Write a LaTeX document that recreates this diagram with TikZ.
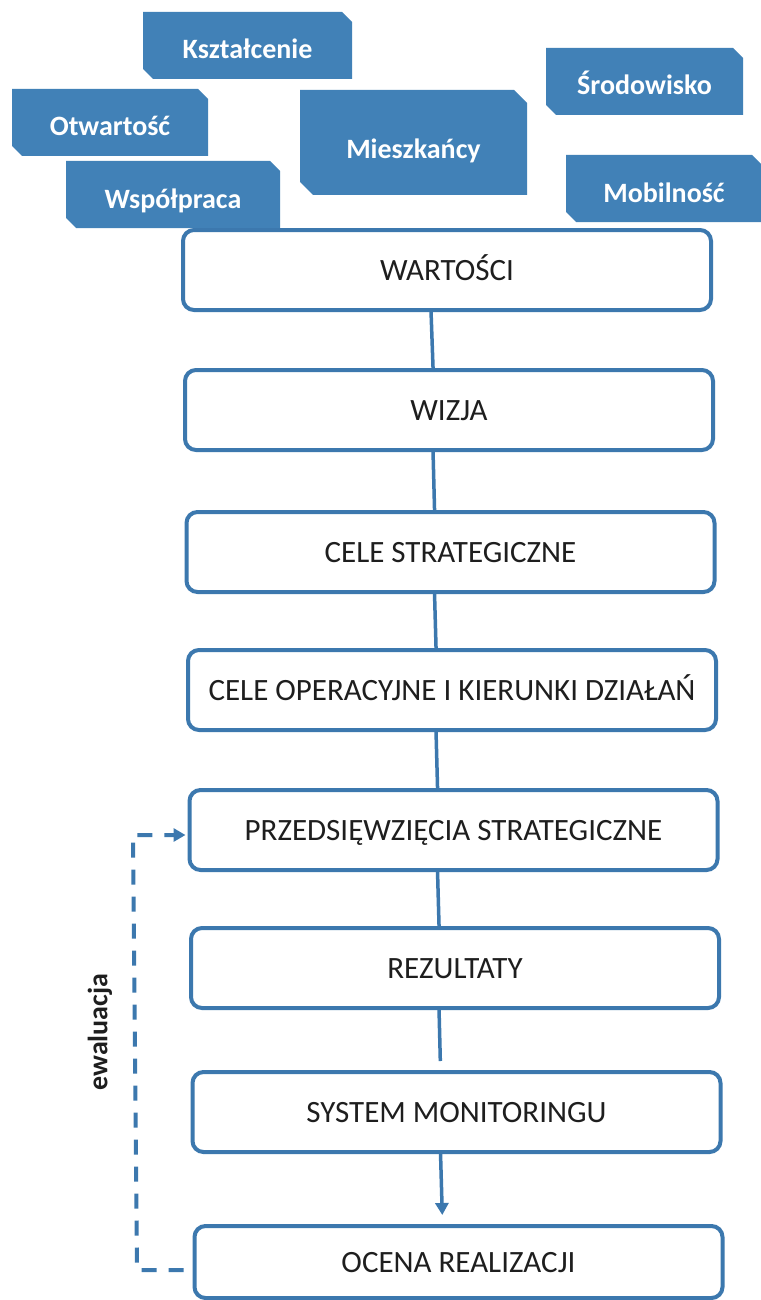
\documentclass[tikz,border=0pt]{standalone}
\usepackage{fontspec}
\setmainfont{Carlito}
\usetikzlibrary{arrows.meta,calc,backgrounds}
\definecolor{tagblue}{HTML}{4181B7}
\definecolor{lineblue}{HTML}{3C78AE}
\definecolor{txt}{HTML}{1E1E1E}
\newcommand\tagfill[2]{%
  \fill[tagblue] (#1.north west) -- ($(#1.north east)+(-#2,0)$) -- ($(#1.north east)+(0,#2)$)
    -- (#1.south east) -- ($(#1.south west)+(#2,0)$) -- ($(#1.south west)+(0,-#2)$) -- cycle;}
\begin{document}
\begin{tikzpicture}[x=1pt,y=-1pt,
  tagbox/.style={rectangle, text=white, font=\fontsize{28}{32}\selectfont\bfseries,
    inner sep=0pt, outer sep=0pt, minimum height=67pt, text height=27pt, text depth=0pt},
  stagebox/.style={draw=lineblue, line width=4pt, rounded corners=11pt, fill=white,
    minimum width=528pt, minimum height=80pt, inner sep=0pt, text=txt,
    text height=21pt, text depth=0pt, font=\fontsize{31}{34}\selectfont},
  link/.style={draw=lineblue, line width=3.5pt},
  evalline/.style={draw=lineblue, line width=4pt, dash pattern=on 15pt off 12pt},
  evallabel/.style={text=txt, font=\fontsize{28}{32}\selectfont\bfseries, rotate=90},
]
\useasboundingbox (0,0) rectangle (760,1300);

% value tags
\node[tagbox, minimum width=209pt] (t1) at (247.5,45.5) {Kształcenie};
\node[tagbox, minimum width=196pt] (t2) at (110,122.5) {Otwartość};
\node[tagbox, minimum width=214pt] (t3) at (173,194.5) {Współpraca};
\node[tagbox, minimum width=227pt, minimum height=105pt, text height=32pt] (t4) at (413.5,142.5) {Mieszkańcy};
\node[tagbox, minimum width=197pt] (t5) at (644.5,81.5) {Środowisko};
\node[tagbox, minimum width=196pt] (t6) at (664,188.5) {Mobilność};
\begin{pgfonlayer}{background}
  \fill[white] (0,0) rectangle (760,1300);
  \tagfill{t1}{10}
  \tagfill{t2}{10}
  \tagfill{t3}{10}
  \tagfill{t4}{13}
  \tagfill{t5}{10}
  \tagfill{t6}{10}
\end{pgfonlayer}

% stages
\node[stagebox] (b1) at (447,270) {WARTOŚCI};
\node[stagebox] (b2) at (449,410) {WIZJA};
\node[stagebox] (b3) at (450.5,552) {CELE STRATEGICZNE};
\node[stagebox] (b4) at (452,690) {CELE OPERACYJNE I KIERUNKI DZIAŁAŃ};
\node[stagebox] (b5) at (453.5,830) {PRZEDSIĘWZIĘCIA STRATEGICZNE};
\node[stagebox] (b6) at (455,968) {REZULTATY};
\node[stagebox] (b7) at (456.5,1112) {SYSTEM MONITORINGU};
\node[stagebox, minimum height=72pt] (b8) at (458.5,1262) {OCENA REALIZACJI};

% connectors
\foreach \a/\b in {b1/b2,b2/b3,b3/b4,b4/b5,b5/b6}{
  \draw[link] ($(\a.south west)!0.47!(\a.south east)$) -- ($(\b.north west)!0.47!(\b.north east)$);
}
\draw[link, shorten >=9pt] ($(b6.south west)!0.47!(b6.south east)$) -- ($(b7.north west)!0.47!(b7.north east)$);
\draw[link, shorten >=9pt, -{Triangle[width=13pt,length=12pt]}] ($(b7.south west)!0.47!(b7.south east)$) -- ($(b8.north west)!0.47!(b8.north east)$);

% evaluation loop
\coordinate (e1) at (137,1270);
\coordinate (e2) at (133,835);
\draw[evalline, shorten >=2pt, -{Triangle[width=13pt,length=12pt]}]
  ($(b8.west)+(-9,8)$) -- (e1) -- (e2) -- ($(b5.west)+(0,5)$);
\node[evallabel] (ev) at (100,1032) {ewaluacja};
\end{tikzpicture}
\end{document}
